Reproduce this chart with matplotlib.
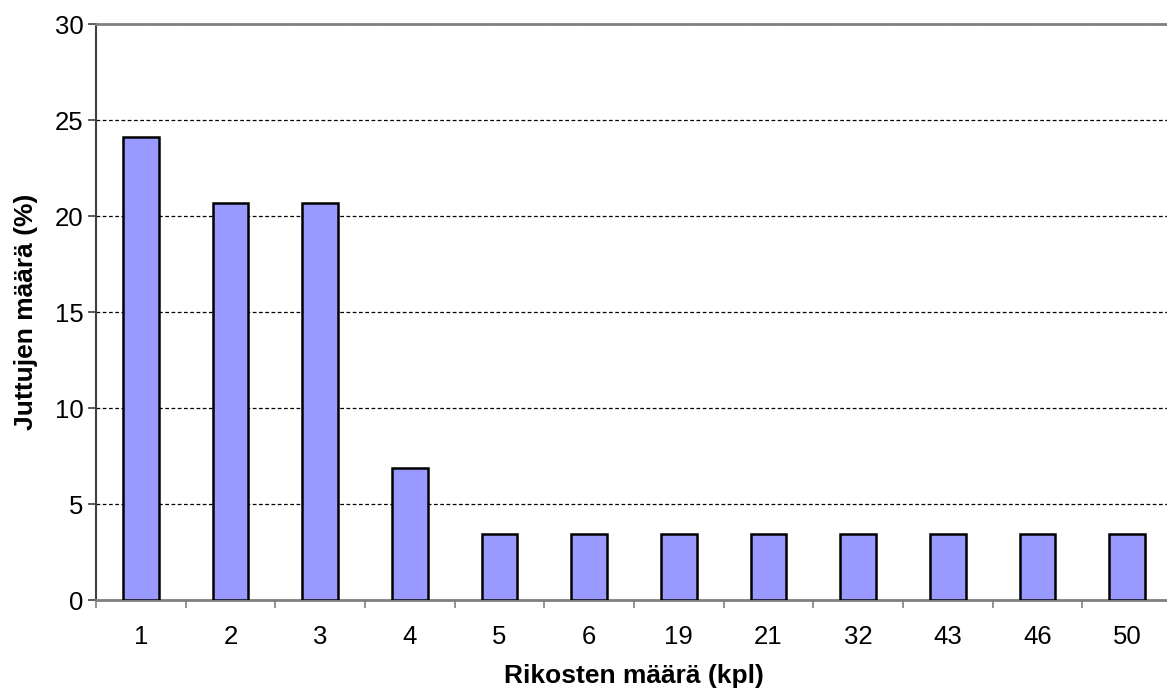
import matplotlib.pyplot as plt
import numpy as np

# Rikosten määrä per juttu, osuus jutuista (%)
rikokset = ['1', '2', '3', '4', '5', '6', '19', '21', '32', '43', '46', '50']
osuus = [24.14, 20.69, 20.69, 6.90, 3.45, 3.45, 3.45, 3.45, 3.45, 3.45, 3.45, 3.45]

plt.rcParams['font.family'] = ['Liberation Sans', 'DejaVu Sans']

fig = plt.figure(figsize=(11.67, 6.93), dpi=100)
# plot area reaches slightly past the right edge, as in the original
ax = fig.add_axes([96 / 1167, 93 / 693, 1076 / 1167, 576 / 693])

x = np.arange(len(rikokset))
ax.bar(x, osuus, width=0.4, color='#9999ff', edgecolor='black', linewidth=1.8, zorder=3)

ax.set_xlim(-0.5, len(rikokset) - 0.5)
ax.set_ylim(0, 30)
ax.set_yticks(range(0, 31, 5))
ax.set_xticks(x)
ax.set_xticklabels(rikokset)
ax.set_xticks(np.arange(-0.5, len(rikokset), 1), minor=True)
ax.tick_params(axis='x', which='major', length=0, pad=18, labelsize=18.5)
ax.tick_params(axis='x', which='minor', length=6, width=1.2, color='#808080', direction='out')
ax.tick_params(axis='y', length=6, width=1.2, color='#404040', direction='out', labelsize=18.5, pad=3)

ax.yaxis.grid(True, linestyle=(0, (3, 2)), color='black', linewidth=0.9, zorder=0)

ax.spines['right'].set_visible(False)
ax.spines['top'].set_color('#808080')
ax.spines['top'].set_linewidth(2)
ax.spines['left'].set_color('#404040')
ax.spines['left'].set_linewidth(1.5)
ax.spines['bottom'].set_color('#808080')
ax.spines['bottom'].set_linewidth(2)

ax.set_xlabel('Rikosten määrä (kpl)', fontsize=19, fontweight='bold', labelpad=11)
ax.set_ylabel('Juttujen määrä (%)', fontsize=19, fontweight='bold', labelpad=12)

plt.savefig('out.png', dpi=100)
